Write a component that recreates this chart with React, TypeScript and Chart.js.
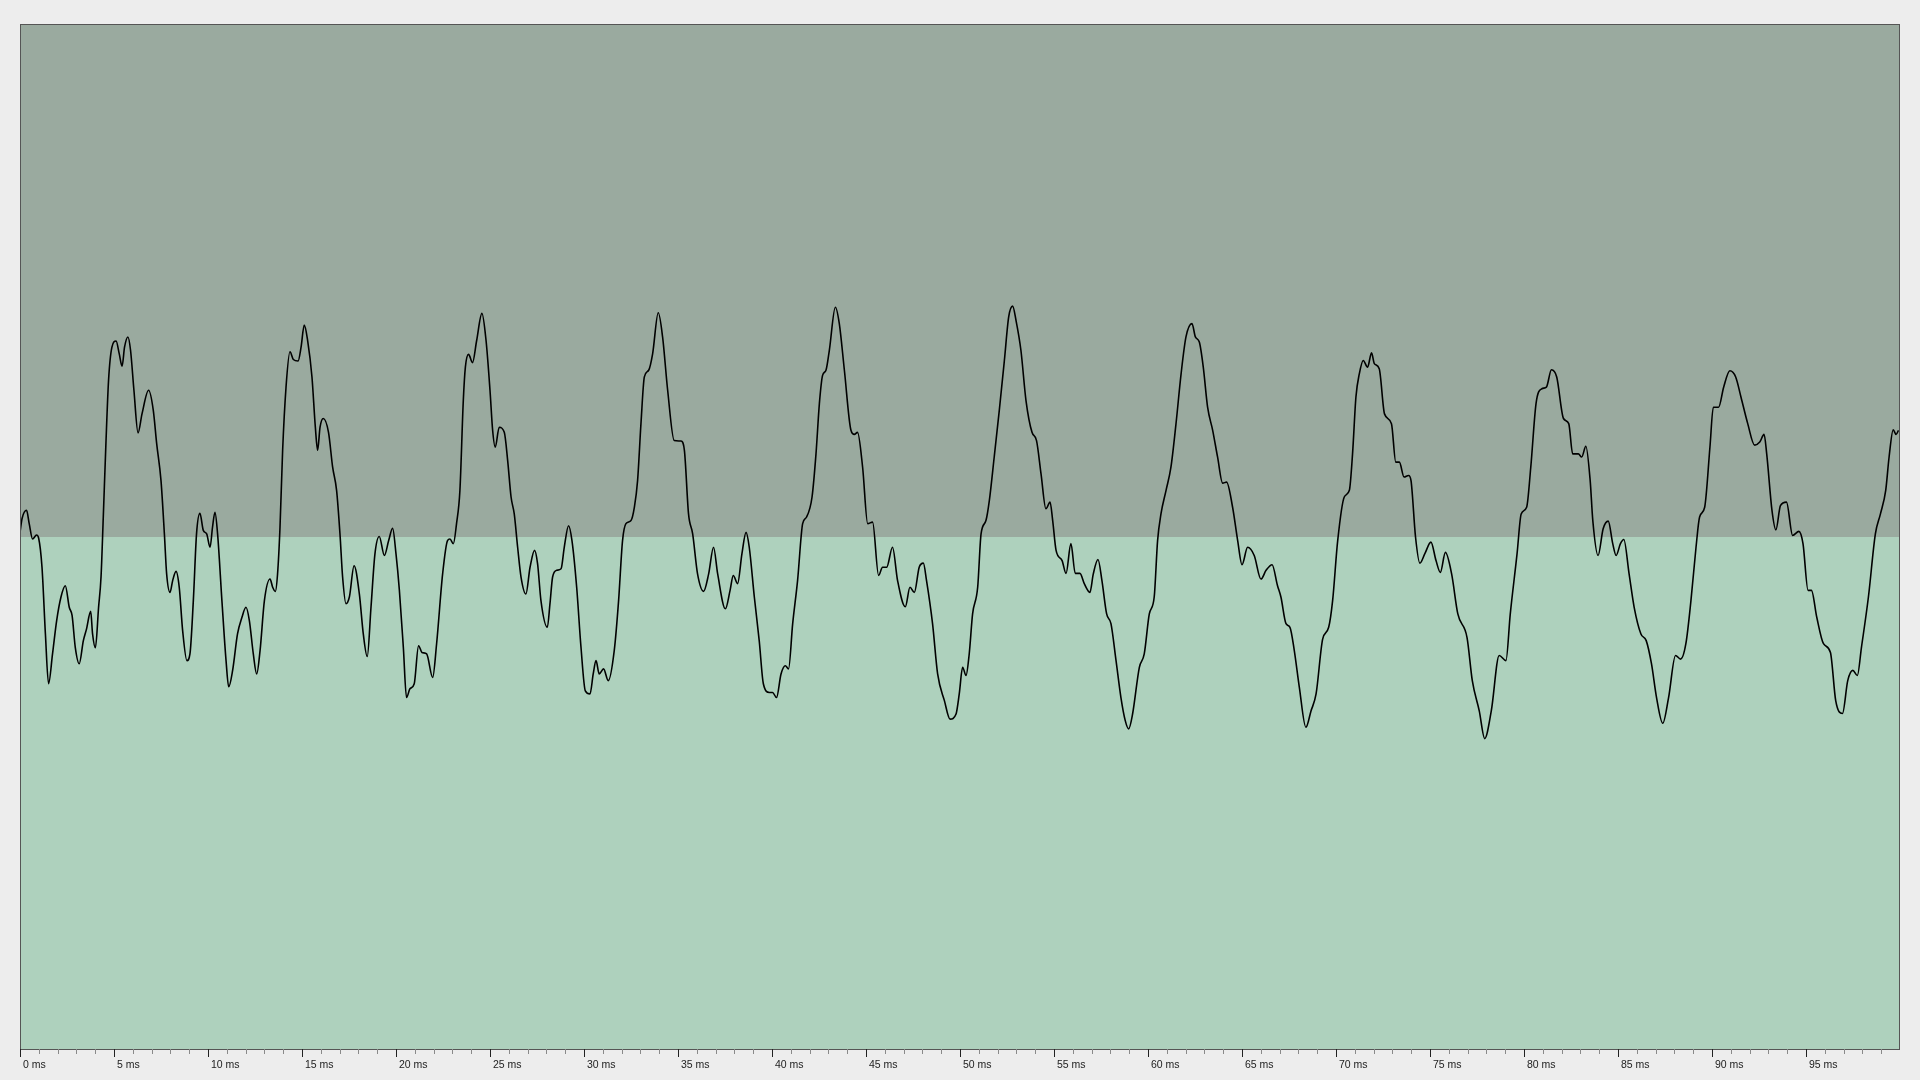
import { useEffect, useRef } from 'react';
import { Chart, registerables } from 'chart.js';

Chart.register(...registerables);

// Waveform samples (time in ms, amplitude in -1..1)
const timeMs = [
  0.00, 0.11, 0.35, 0.49, 0.67, 0.88, 0.99, 1.17, 1.35, 1.52,
  1.73, 1.95, 2.18, 2.41, 2.62, 2.77, 2.94, 3.15, 3.37, 3.54,
  3.76, 3.86, 4.01, 4.18, 4.31, 4.43, 4.57, 4.71, 4.89, 5.11,
  5.28, 5.43, 5.56, 5.74, 5.88, 6.06, 6.28, 6.49, 6.84, 7.09,
  7.27, 7.50, 7.68, 7.80, 7.98, 8.12, 8.30, 8.47, 8.65, 8.88,
  9.04, 9.22, 9.39, 9.57, 9.75, 9.93, 10.11, 10.24, 10.37, 10.51,
  10.74, 10.96, 11.10, 11.31, 11.57, 11.81, 12.02, 12.20, 12.41, 12.59,
  12.77, 13.00, 13.30, 13.44, 13.58, 13.70, 13.83, 13.97, 14.15, 14.36,
  14.54, 14.79, 14.95, 15.12, 15.30, 15.53, 15.71, 15.83, 15.96, 16.13,
  16.41, 16.63, 16.84, 17.02, 17.16, 17.34, 17.52, 17.77, 18.05, 18.26,
  18.47, 18.67, 18.88, 19.11, 19.38, 19.61, 19.82, 20.00, 20.18, 20.39,
  20.56, 20.74, 20.97, 21.20, 21.38, 21.63, 21.95, 22.16, 22.48, 22.74,
  22.87, 23.05, 23.22, 23.40, 23.58, 23.69, 23.86, 24.07, 24.29,
  24.57, 24.79, 25.00, 25.14, 25.28, 25.49, 25.76, 25.94, 26.12, 26.29,
  26.47, 26.65, 26.91, 27.13, 27.37, 27.53, 27.71, 28.05, 28.19, 28.33,
  28.54, 28.78, 28.95, 29.18, 29.36, 29.61, 29.84, 30.07, 30.32, 30.49,
  30.64, 30.81, 31.04, 31.29, 31.61, 31.84, 32.05, 32.23, 32.50, 32.68,
  32.85, 33.03, 33.21, 33.44, 33.65, 33.95, 34.18, 34.45, 34.80, 35.16,
  35.34, 35.56, 35.78, 36.04, 36.36, 36.63, 36.89, 37.11, 37.52, 37.77,
  37.94, 38.17, 38.40, 38.62, 38.79, 39.06, 39.32, 39.54, 39.86, 40.03,
  40.24, 40.48, 40.71, 40.88, 41.10, 41.36, 41.63, 41.84, 42.13, 42.34,
  42.52, 42.69, 42.87, 43.05, 43.37, 43.58, 43.85, 44.20, 44.38, 44.55,
  44.82, 45.09, 45.35, 45.67, 45.88, 46.10, 46.41, 46.68, 47.09, 47.34,
  47.57, 47.83, 48.05, 48.22, 48.54, 48.81, 49.17, 49.47, 49.79, 49.96,
  50.14, 50.32, 50.49, 50.67, 50.94, 51.12, 51.38, 51.56, 51.82, 52.09,
  52.36, 52.59, 52.80, 52.98, 53.24, 53.51, 53.83, 54.07, 54.31, 54.57,
  54.79, 54.93, 55.11, 55.43, 55.64, 55.90, 56.13, 56.38, 56.61, 56.91,
  57.09, 57.34, 57.55, 57.80, 58.03, 58.30, 58.56, 58.79, 58.97, 59.18,
  59.54, 59.80, 60.07, 60.33, 60.51, 60.69, 60.96, 61.22, 61.49, 61.76,
  62.02, 62.34, 62.52, 62.73, 62.94, 63.17, 63.44, 63.70, 63.97, 64.18,
  64.50, 64.77, 65.00, 65.30, 65.65, 66.01, 66.28, 66.60, 66.89, 67.07,
  67.34, 67.55, 67.78, 68.05, 68.40, 68.67, 68.94, 69.29, 69.61, 69.82,
  70.09, 70.44, 70.71, 70.88, 71.06, 71.24, 71.45, 71.68, 71.89, 72.04,
  72.30, 72.58, 72.95, 73.18, 73.37, 73.62, 73.86, 73.99, 74.23, 74.46,
  74.72, 75.05, 75.32, 75.55, 75.82, 76.15, 76.48, 76.97, 77.25, 77.62,
  77.91, 78.26, 78.68, 79.04, 79.27, 79.63, 79.85, 80.14, 80.36, 80.64,
  80.95, 81.19, 81.46, 81.74, 82.10, 82.38, 82.59, 82.89, 83.07, 83.29,
  83.52, 83.66, 83.94, 84.21, 84.48, 84.72, 84.90, 85.13, 85.31, 85.59,
  85.86, 86.22, 86.50, 86.78, 87.05, 87.38, 87.69, 88.06, 88.33, 88.61,
  88.88, 89.15, 89.34, 89.61, 89.89, 90.07, 90.35, 90.62, 90.95, 91.26,
  91.54, 91.90, 92.27, 92.54, 92.77, 92.91, 93.19, 93.40, 93.64, 93.96,
  94.29, 94.62, 94.84, 95.11, 95.29, 95.57, 95.93, 96.30, 96.58, 96.94,
  97.22, 97.49, 97.73, 97.95, 98.32, 98.69, 98.96, 99.24, 99.42, 99.64,
  99.79, 99.92,
];

const amplitude = [
  0.009, 0.036, 0.052, 0.026, -0.004, 0.004, -0.002, -0.059, -0.188, -0.286,
  -0.228, -0.163, -0.117, -0.095, -0.137, -0.153, -0.215, -0.247, -0.202, -0.179,
  -0.145, -0.189, -0.216, -0.137, -0.078, 0.039, 0.182, 0.305, 0.370, 0.382,
  0.357, 0.333, 0.370, 0.390, 0.364, 0.286, 0.203, 0.240, 0.286, 0.247,
  0.182, 0.110, 0.006, -0.072, -0.108, -0.085, -0.067, -0.098, -0.182, -0.241,
  -0.228, -0.124, 0.006, 0.046, 0.013, 0.006, -0.020, 0.019, 0.048, 0.006,
  -0.124, -0.241, -0.292, -0.260, -0.189, -0.156, -0.137, -0.163, -0.228, -0.267,
  -0.221, -0.124, -0.082, -0.098, -0.106, -0.072, 0.019, 0.169, 0.292, 0.361,
  0.346, 0.343, 0.370, 0.413, 0.383, 0.312, 0.214, 0.169, 0.214, 0.231,
  0.204, 0.136, 0.091, 0.006, -0.078, -0.130, -0.117, -0.056, -0.111, -0.189,
  -0.233, -0.137, -0.033, 0.001, -0.036, -0.007, 0.017, -0.033, -0.104, -0.215,
  -0.313, -0.296, -0.286, -0.212, -0.225, -0.228, -0.274, -0.208, -0.072, -0.007,
  -0.004, -0.013, 0.026, 0.091, 0.266, 0.331, 0.356, 0.340, 0.383,
  0.436, 0.383, 0.286, 0.208, 0.175, 0.214, 0.204, 0.149, 0.078, 0.045,
  -0.020, -0.078, -0.111, -0.059, -0.026, -0.052, -0.124, -0.176, -0.130, -0.078,
  -0.065, -0.062, -0.020, 0.022, -0.007, -0.098, -0.215, -0.300, -0.306, -0.267,
  -0.241, -0.267, -0.257, -0.280, -0.221, -0.124, -0.007, 0.026, 0.032, 0.058,
  0.110, 0.221, 0.312, 0.325, 0.357, 0.437, 0.390, 0.286, 0.188, 0.187,
  0.169, 0.045, 0.006, -0.072, -0.106, -0.072, -0.020, -0.072, -0.140, -0.104,
  -0.075, -0.091, -0.033, 0.009, -0.020, -0.117, -0.202, -0.286, -0.303, -0.303,
  -0.313, -0.267, -0.251, -0.257, -0.169, -0.085, 0.026, 0.039, 0.078, 0.162,
  0.260, 0.315, 0.325, 0.364, 0.448, 0.416, 0.325, 0.208, 0.200, 0.204,
  0.136, 0.026, 0.029, -0.075, -0.059, -0.059, -0.020, -0.085, -0.136, -0.098,
  -0.108, -0.059, -0.051, -0.085, -0.169, -0.267, -0.319, -0.355, -0.345, -0.306,
  -0.254, -0.270, -0.228, -0.150, -0.098, 0.006, 0.032, 0.071, 0.156, 0.247,
  0.344, 0.429, 0.450, 0.422, 0.364, 0.266, 0.204, 0.188, 0.123, 0.055,
  0.068, 0.032, -0.026, -0.046, -0.071, -0.013, -0.071, -0.071, -0.091, -0.108,
  -0.072, -0.044, -0.085, -0.150, -0.169, -0.241, -0.313, -0.358, -0.374, -0.345,
  -0.254, -0.228, -0.150, -0.117, -0.007, 0.045, 0.091, 0.136, 0.221, 0.318,
  0.390, 0.416, 0.390, 0.380, 0.331, 0.253, 0.208, 0.156, 0.105, 0.107,
  0.058, -0.007, -0.054, -0.020, -0.036, -0.082, -0.065, -0.054, -0.095, -0.117,
  -0.169, -0.176, -0.221, -0.293, -0.371, -0.339, -0.306, -0.199, -0.176, -0.124,
  -0.007, 0.078, 0.091, 0.162, 0.273, 0.318, 0.344, 0.331, 0.359, 0.338,
  0.328, 0.240, 0.221, 0.146, 0.146, 0.117, 0.120, 0.110, 0.000, -0.051,
  -0.033, -0.010, -0.046, -0.069, -0.030, -0.072, -0.150, -0.196, -0.280, -0.339,
  -0.393, -0.339, -0.231, -0.241, -0.150, -0.033, 0.045, 0.058, 0.136, 0.260,
  0.289, 0.292, 0.326, 0.312, 0.231, 0.221, 0.162, 0.162, 0.156, 0.177,
  0.110, 0.032, -0.036, 0.016, 0.031, -0.013, -0.036, -0.013, -0.005, -0.072,
  -0.137, -0.189, -0.202, -0.247, -0.313, -0.363, -0.313, -0.231, -0.238, -0.208,
  -0.124, -0.020, 0.039, 0.058, 0.175, 0.253, 0.253, 0.292, 0.324, 0.312,
  0.273, 0.221, 0.179, 0.185, 0.200, 0.162, 0.052, 0.014, 0.061, 0.068,
  0.003, 0.011, -0.013, -0.104, -0.104, -0.156, -0.208, -0.225, -0.319, -0.344,
  -0.280, -0.260, -0.270, -0.215, -0.117, 0.006, 0.045, 0.091, 0.156, 0.209,
  0.200, 0.208,
];

const xMin = 0;
const xMax = 100;
const yMin = -1;
const yMax = 1;
const majorTickValues = [0, 5, 10, 15, 20, 25, 30, 35, 40, 45, 50, 55, 60, 65, 70, 75, 80, 85, 90, 95];
const majorTickLabels = ['0 ms', '5 ms', '10 ms', '15 ms', '20 ms', '25 ms', '30 ms', '35 ms', '40 ms', '45 ms',
  '50 ms', '55 ms', '60 ms', '65 ms', '70 ms', '75 ms', '80 ms', '85 ms', '90 ms', '95 ms'];
const minorTickStep = 1;

const UPPER_BG = '#9aaa9f';
const LOWER_BG = '#aed1bd';
const FRAME = '#555555';

const bandsAndFrame = {
  id: 'bandsAndFrame',
  beforeDatasetsDraw(chart: any) {
    const { ctx, chartArea: a, scales } = chart;
    const zero = Math.round(scales.y.getPixelForValue(0));
    ctx.save();
    ctx.fillStyle = UPPER_BG;
    ctx.fillRect(a.left, a.top, a.right - a.left, zero - a.top);
    ctx.fillStyle = LOWER_BG;
    ctx.fillRect(a.left, zero, a.right - a.left, a.bottom - zero);
    ctx.restore();
  },
  afterDraw(chart: any) {
    const { ctx, chartArea: a, scales } = chart;
    ctx.save();
    ctx.lineWidth = 1;
    ctx.strokeStyle = FRAME;
    ctx.strokeRect(a.left + 0.5, a.top + 0.5, a.right - a.left - 1, a.bottom - a.top - 1);
    // tick marks below the axis
    for (let v = xMin; v < xMax; v += minorTickStep) {
      const px = Math.round(scales.x.getPixelForValue(v)) + 0.5;
      const major = majorTickValues.includes(v);
      ctx.strokeStyle = major ? '#222222' : '#8a8a8a';
      ctx.beginPath();
      ctx.moveTo(px, a.bottom - 1);
      ctx.lineTo(px, a.bottom + (major ? 7 : 4));
      ctx.stroke();
    }
    ctx.restore();
  },
};

export default function App() {
  const canvasRef = useRef<HTMLCanvasElement | null>(null);

  useEffect(() => {
    const canvas = canvasRef.current;
    if (!canvas) return;
    const points = timeMs.map((t, i) => ({ x: t, y: amplitude[i] }));
    const chart = new Chart(canvas, {
      type: 'line',
      data: {
        datasets: [
          {
            data: points,
            borderColor: '#000000',
            borderWidth: 1.6,
            pointRadius: 0,
            fill: false,
            cubicInterpolationMode: 'monotone',
          },
        ],
      },
      options: {
        responsive: false,
        animation: false,
        devicePixelRatio: 1,
        events: [],
        layout: { padding: { left: 20, right: 20, top: 24, bottom: 0 } },
        plugins: { legend: { display: false }, tooltip: { enabled: false } },
        scales: {
          x: {
            type: 'linear',
            min: xMin,
            max: xMax,
            grid: { display: false, drawTicks: false },
            border: { display: false },
            afterBuildTicks: (scale: any) => {
              scale.ticks = majorTickValues.map((v) => ({ value: v }));
            },
            afterFit: (scale: any) => {
              scale.height = 30;
            },
            ticks: {
              autoSkip: false,
              maxRotation: 0,
              align: 'start',
              labelOffset: 3,
              padding: 9,
              color: '#222222',
              font: { family: '"Liberation Sans", Arial, sans-serif', size: 10.5 },
              callback: (value: any) => {
                const idx = majorTickValues.indexOf(Number(value));
                return idx >= 0 ? majorTickLabels[idx] : '';
              },
            },
          },
          y: {
            type: 'linear',
            display: false,
            min: yMin,
            max: yMax,
          },
        },
      },
      plugins: [bandsAndFrame],
    } as any);
    return () => chart.destroy();
  }, []);

  return (
    <div
      style={{
        position: 'fixed',
        left: 0,
        top: 0,
        width: 1920,
        height: 1080,
        background: '#ededed',
      }}
    >
      <canvas ref={canvasRef} width={1920} height={1080} style={{ display: 'block' }} />
    </div>
  );
}
